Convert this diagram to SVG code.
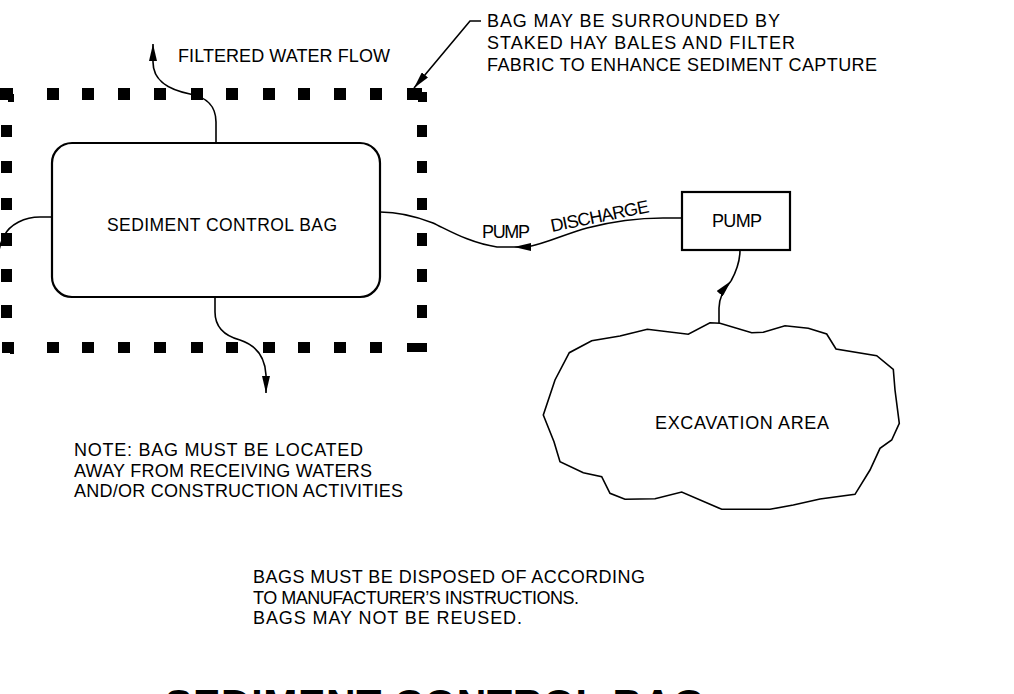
<svg xmlns="http://www.w3.org/2000/svg" width="1014" height="694" viewBox="0 0 1014 694">
<style>
text{font-family:"Liberation Sans",Arial,sans-serif;fill:#000;font-size:18px}
.lbl{font-size:17.5px}
.title{font-size:41px;font-weight:bold}
.ln{fill:none;stroke:#000;stroke-width:1.6}
.hb{fill:#000}
.node{fill:#fff;stroke:#000;stroke-width:2.2}
</style>
<defs>
<marker id="ah" markerUnits="userSpaceOnUse" viewBox="0 0 17 8" refX="17" refY="4" markerWidth="17" markerHeight="8" orient="auto">
<path d="M0,0 L17,4 L0,8 z" fill="#000"/>
</marker>
</defs>
<rect width="1014" height="694" fill="#fff"/>

<g id="haybales">
<rect class="hb" x="0" y="88" width="13" height="12"/><rect class="hb" x="8" y="94" width="6" height="8"/>
<rect class="hb" x="47" y="88" width="12" height="12"/>
<rect class="hb" x="82" y="88" width="12" height="12"/>
<rect class="hb" x="118" y="88" width="12" height="12"/>
<rect class="hb" x="154" y="88" width="12" height="12"/>
<rect class="hb" x="191" y="88" width="12" height="12"/>
<rect class="hb" x="226" y="88" width="12" height="12"/>
<rect class="hb" x="263" y="88" width="12" height="12"/>
<rect class="hb" x="298" y="88" width="12" height="12"/>
<rect class="hb" x="334" y="88" width="12" height="12"/>
<rect class="hb" x="370" y="88" width="12" height="12"/>
<rect class="hb" x="407" y="88" width="15" height="12"/><rect class="hb" x="418" y="92" width="9" height="10"/>
<rect class="hb" x="1" y="125" width="11" height="12"/>
<rect class="hb" x="1" y="161" width="11" height="12"/>
<rect class="hb" x="1" y="198" width="11" height="12"/>
<rect class="hb" x="1" y="233" width="11" height="13"/>
<rect class="hb" x="1" y="269" width="11" height="13"/>
<rect class="hb" x="1" y="305" width="11" height="13"/>
<rect class="hb" x="417" y="125" width="10" height="12"/>
<rect class="hb" x="417" y="161" width="10" height="12"/>
<rect class="hb" x="417" y="198" width="10" height="12"/>
<rect class="hb" x="417" y="233" width="10" height="13"/>
<rect class="hb" x="417" y="269" width="10" height="13"/>
<rect class="hb" x="417" y="305" width="10" height="13"/>
<rect class="hb" x="2" y="342" width="12" height="11"/><rect class="hb" x="10" y="345" width="4" height="9"/>
<rect class="hb" x="47" y="342" width="12" height="11"/>
<rect class="hb" x="82" y="342" width="12" height="11"/>
<rect class="hb" x="118" y="342" width="12" height="11"/>
<rect class="hb" x="154" y="342" width="12" height="11"/>
<rect class="hb" x="191" y="342" width="12" height="11"/>
<rect class="hb" x="226" y="342" width="12" height="11"/>
<rect class="hb" x="263" y="342" width="12" height="11"/>
<rect class="hb" x="298" y="342" width="12" height="11"/>
<rect class="hb" x="334" y="342" width="12" height="11"/>
<rect class="hb" x="370" y="342" width="12" height="11"/>
<rect class="hb" x="407" y="343" width="20" height="9"/>
</g>

<g id="connectors">
<path class="ln" d="M216,143 L216,122 C216,104 205,97 190,94 C170,90 153,82 153,62 L153,44" marker-end="url(#ah)"/>
<path class="ln" d="M215,297 L215,312 C215,328 225,336 240,340 C255,345 265,355 266,375 L266,393" marker-end="url(#ah)"/>
<path class="ln" d="M52,217 L40,217 C25,217 10,224 4,236 C2,240 0,245 -1,250"/>
<path class="ln" d="M682,218 L663,218 C640,218 610,222 587,228 C565,234 545,244 527,247 L514,247" marker-end="url(#ah)"/>
<path class="ln" d="M514,247 L497,247 C470,243 450,231 433,223 C410,214 395,212 380,212"/>
<path class="ln" d="M719,323 L719,308 C719,298 723,290 731,281" marker-end="url(#ah)"/>
<path class="ln" d="M731,281 C736,272 740,262 740,250"/>
<path class="ln" d="M481,21 L470,21 L414,88" marker-end="url(#ah)"/>
</g>

<g id="bag">
<rect class="node" x="52" y="143" width="328" height="154" rx="20" ry="20"/>
<text class="lbl" x="107" y="231" textLength="230" lengthAdjust="spacing">SEDIMENT CONTROL BAG</text>
</g>

<g id="pump">
<rect class="node" x="682" y="192" width="108" height="58" stroke-width="2.6"/>
<text x="712" y="227" textLength="50" lengthAdjust="spacing">PUMP</text>
</g>

<g id="excavation">
<polygon class="ln" points="569.3,352.7 555,380 543.3,415 554,441.7 560,461.7 583.3,472.7 601.7,476.7 610,493.3 625,499.3 655,498.7 681.7,492 721.7,509.3 770,509.3 793.3,505 820,499 855,494.3 870,470 880,448.3 891.7,440 899.3,423.3 895,390 893.3,369.3 876.7,355.7 836,349 826.7,334 808.3,328.3 785,325.7 763.3,332.3 751.7,332.7 720,323.3 710,322.7 688.3,334.3 647.3,329.3 620,336 591.7,340.7"/>
<text x="655" y="429" textLength="174" lengthAdjust="spacing">EXCAVATION AREA</text>
</g>

<g id="labels">
<text x="178" y="62" textLength="212" lengthAdjust="spacing">FILTERED WATER FLOW</text>
<text x="487" y="27" textLength="293" lengthAdjust="spacing">BAG MAY BE SURROUNDED BY</text>
<text x="487" y="49" textLength="308" lengthAdjust="spacing">STAKED HAY BALES AND FILTER</text>
<text x="487" y="71" textLength="390" lengthAdjust="spacing">FABRIC TO ENHANCE SEDIMENT CAPTURE</text>
<text x="482" y="238" textLength="48" lengthAdjust="spacing">PUMP</text>
<text x="552" y="232" textLength="100" lengthAdjust="spacing" transform="rotate(-11.5 552 232)">DISCHARGE</text>
<text x="74" y="456" textLength="289" lengthAdjust="spacing">NOTE: BAG MUST BE LOCATED</text>
<text x="74" y="477" textLength="298" lengthAdjust="spacing">AWAY FROM RECEIVING WATERS</text>
<text x="74" y="497" textLength="329" lengthAdjust="spacing">AND/OR CONSTRUCTION ACTIVITIES</text>
<text x="253" y="583" textLength="392" lengthAdjust="spacing">BAGS MUST BE DISPOSED OF ACCORDING</text>
<text x="253" y="604" textLength="326" lengthAdjust="spacing">TO MANUFACTURER’S INSTRUCTIONS.</text>
<text x="253" y="624" textLength="269" lengthAdjust="spacing">BAGS MAY NOT BE REUSED.</text>
<text class="title" x="165" y="718" textLength="540" lengthAdjust="spacing">SEDIMENT CONTROL BAG</text>
</g>
</svg>
